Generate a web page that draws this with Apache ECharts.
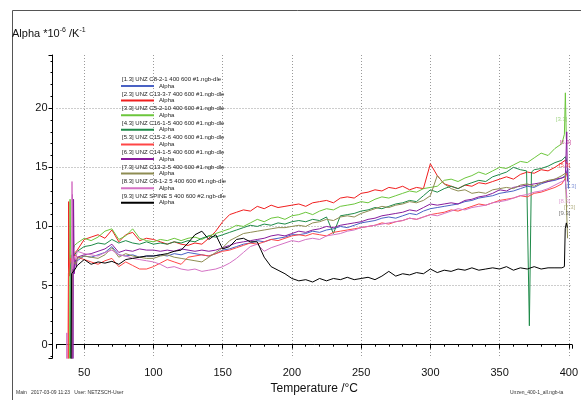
<!DOCTYPE html>
<html><head><meta charset="utf-8">
<script src="https://cdn.jsdelivr.net/npm/echarts@6/dist/echarts.min.js"></script>
<style>html,body{margin:0;padding:0;background:#fff}#c{width:581px;height:400px}</style>
</head><body><div id="c"></div>
<script>
// ---- data ----
const temps = [45,50,55,60,65,70,75,80,85,90,95,100,
  105,110,115,120,125,130,135,140,145,150,
  155,160,165,170,175,180,185,190,195,200,
  205,210,215,220,225,230,235,240,245,250,
  255,260,265,270,275,280,285,290,295,300,
  305,310,315,320,325,330,335,340,345,350,
  355,360,365,370,375,380,385,390,395];

const seriesNames = [
  '[1.3] UNZ C8-2-1 400 600 #1.ngb-dle',
  '[2.3] UNZ C13-3-7 400 600 #1.ngb-dle',
  '[3.3] UNZ C5-2-10 400 600 #1.ngb-dle',
  '[4.3] UNZ C16-1-5 400 600 #1.ngb-dle',
  '[5.3] UNZ C15-2-6 400 600 #1.ngb-dle',
  '[6.3] UNZ C14-1-5 400 600 #1.ngb-dle',
  '[7.3] UNZ C13-2-5 400 600 #1.ngb-dle',
  '[8.3] UNZ C8-1-2 5 400 600 #1.ngb-dle',
  '[9.3] UNZ SPINE 5 400 600 #2.ngb-dle'
];
const seriesColors = ['#4a62c4','#f01e1e','#6cc63c','#1e8a48','#ff4646','#881c9c','#8e8c52','#d472c4','#000000'];

const vals1 = [7.1,7.5,7.4,7.6,7.8,8.3,7.6,7.5,7.6,7.4,7.5,7.5,
  7.6,7.5,7.7,7.6,7.8,7.7,7.6,7.5,7.7,8.0,
  8.1,8.3,8.5,8.6,8.8,8.7,8.9,9.0,9.1,9.3,
  9.3,9.4,9.6,9.5,9.7,9.8,10.0,9.9,10.1,10.3,
  10.4,10.5,10.7,10.8,10.7,10.9,11.1,11.0,11.3,11.5,
  11.6,11.7,11.8,11.9,12.1,12.2,12.4,12.5,12.6,12.8,
  12.9,13.0,13.2,13.4,13.3,13.6,13.8,13.9,14.1];
const vals2 = [8.0,8.9,9.1,9.3,9.0,9.7,8.7,9.3,9.5,8.8,9.0,8.9,
  8.7,8.5,8.7,8.5,8.4,8.6,8.5,9.0,9.6,10.4,
  11.0,11.2,11.4,11.3,11.7,11.5,11.8,11.6,11.7,11.8,
  11.9,11.7,12.0,12.1,12.2,12.0,12.4,12.5,12.4,12.8,
  12.9,13.1,13.0,13.3,13.2,13.4,13.1,13.3,13.2,15.3,
  14.3,13.6,13.4,13.2,13.5,13.4,13.7,13.6,13.8,14.0,
  14.2,14.0,14.4,14.6,14.5,14.8,14.7,15.0,15.4];
const vals3 = [8.6,9.0,8.8,9.1,9.6,9.8,8.9,9.2,9.8,9.0,8.8,8.7,
  8.9,8.8,9.0,8.8,9.0,9.1,8.9,9.2,9.4,9.6,
  9.8,10.1,10.0,10.3,10.6,10.4,10.7,10.8,10.6,10.9,
  11.0,11.2,11.0,11.3,11.5,11.4,11.7,11.8,11.9,12.1,
  12.0,12.3,12.5,12.4,12.6,12.8,13.0,12.9,13.2,13.3,
  13.4,13.9,14.0,13.8,14.1,14.3,14.6,14.4,14.7,15.0,
  14.9,15.2,15.5,15.4,15.8,16.2,16.0,16.6,17.0];
const vals4 = [7.9,8.3,8.4,8.6,8.5,8.9,8.6,8.8,8.6,8.5,8.7,8.5,
  8.6,8.5,8.7,8.6,8.8,8.7,9.0,9.2,9.1,9.3,
  9.5,9.7,9.9,10.1,10.0,10.2,10.1,10.3,10.2,10.4,
  10.5,10.4,10.6,10.5,10.8,9.4,10.9,11.0,11.1,11.3,
  11.4,11.6,11.5,11.7,11.9,12.0,12.2,12.1,12.6,13.1,
  12.9,13.2,13.4,13.2,13.5,13.7,13.9,13.8,14.2,14.4,
  14.6,15.0,14.8,14.7,14.8,14.9,15.1,15.4,15.6];
const vals5 = [7.4,7.2,7.0,6.8,7.1,7.3,6.6,7.0,6.7,6.4,6.4,6.6,
  6.9,7.2,7.0,6.8,7.4,7.5,7.6,7.5,7.7,7.9,
  8.0,8.2,8.4,8.6,8.5,8.7,8.9,8.8,9.0,9.2,
  9.3,9.2,9.4,9.3,9.2,9.5,9.6,9.7,9.8,9.9,
  10.0,10.1,10.3,10.2,10.4,10.5,10.7,10.6,10.8,11.0,
  11.1,11.2,11.4,11.3,11.5,11.7,11.9,11.8,12.0,12.2,
  12.3,12.4,12.6,12.5,12.8,12.9,13.1,13.3,13.6];
const vals6 = [7.4,7.6,7.7,7.9,8.1,8.5,7.8,8.0,7.9,8.1,8.0,8.0,
  7.9,8.0,7.9,8.1,8.0,7.9,8.0,7.9,8.0,8.2,
  8.4,8.6,8.7,8.8,8.9,9.0,9.2,9.3,9.2,9.4,
  9.6,9.5,9.7,9.8,10.0,9.9,10.1,10.2,10.3,10.4,
  10.6,10.7,10.9,11.0,11.1,11.2,11.4,11.3,11.6,11.9,
  11.8,11.9,12.0,11.9,12.2,12.3,12.5,12.6,12.8,13.1,
  13.0,13.3,13.4,13.5,13.6,13.7,13.8,14.0,14.1];
const vals7 = [7.3,7.5,7.4,7.3,7.6,8.2,7.4,7.7,7.5,7.4,7.3,7.3,
  7.5,7.6,7.4,7.3,7.2,7.1,7.0,7.4,7.8,8.2,
  8.8,9.1,9.4,9.5,9.6,9.7,9.8,9.9,9.9,10.0,
  10.1,10.0,10.3,10.4,10.6,10.5,10.8,10.9,10.8,11.1,
  11.3,11.5,11.7,11.6,11.8,11.9,12.1,12.0,12.2,12.6,
  14.3,13.6,13.2,13.0,13.1,12.8,12.9,12.8,13.1,13.2,
  13.3,13.2,13.5,13.6,13.4,13.7,13.9,14.0,14.3];
const vals8 = [7.9,7.7,7.6,7.5,7.8,8.0,7.6,7.5,7.3,7.2,7.1,7.0,
  6.8,6.5,6.6,6.4,6.3,6.4,6.2,6.3,6.4,6.6,
  6.9,7.3,7.8,8.3,8.5,7.9,8.2,8.4,8.6,8.8,
  8.7,8.9,9.0,8.9,9.2,9.3,9.4,9.6,9.7,9.9,
  10.0,10.1,10.2,10.3,10.4,10.5,10.7,10.6,10.8,11.0,
  10.9,11.1,11.3,11.5,11.4,11.6,11.7,11.8,12.0,12.1,
  12.2,12.4,12.6,12.7,12.9,13.0,13.2,13.5,13.8];
const vals9 = [6.7,7.2,6.8,7.0,6.9,7.05,6.8,7.2,7.3,7.4,7.5,7.5,
  7.6,7.7,7.9,8.0,8.6,9.3,9.6,8.9,9.3,8.1,
  8.3,8.9,9.0,8.7,8.7,7.4,6.6,6.3,6.0,5.6,
  5.4,5.5,5.3,5.6,5.4,5.6,5.5,5.7,5.5,5.6,
  5.7,5.5,5.8,6.2,5.8,6.0,5.9,6.1,6.0,6.4,
  6.1,6.3,6.2,6.4,6.3,6.5,6.3,6.4,6.5,6.4,
  6.6,6.3,6.5,6.4,6.6,6.4,6.5,6.5,6.5];

// start-up spikes (below-axis start) and end segments, [T, alpha]
const head1 = [[41,-3],[41.4,6.6],[42.2,6.0],[43.2,7.2]];
const head2 = [[38.5,-3],[38.8,12.1],[39.4,5.8],[40.5,7.6],[42,6.9],[43.5,7.8]];
const head3 = [[39.4,-3],[39.8,12.3],[40.4,6.4],[41.5,7.9],[43,8.4]];
const head4 = [[40,-3],[40.4,6.8],[41.5,7.2],[43,7.6]];
const head5 = [[38.3,-3],[38.6,6.0],[40,7.3],[42,6.8],[43.5,7.6]];
const head6 = [[41.2,-3],[41.5,12.7],[41.9,-3],[42.3,12.3],[42.8,6.0],[43.6,7.2],[44.3,6.6]];
const head7 = [[40.8,-3],[41.2,6.5],[42.5,7.0],[43.8,6.8]];
const head8 = [[37.2,-3],[37.5,1.0],[37.8,-3],[40.9,-3],[41.2,13.8],[41.7,6.4],[42.8,7.5],[43.8,7.2]];
const head9 = [[40.5,-3],[40.9,6.0],[42,5.9],[43.5,6.4]];
const tail1 = [[397.5,14.3],[399.3,14.9],[399.8,13.2]];
const tail2 = [[397.5,15.6],[398.5,15.3]];
const tail3 = [[396.8,17.8],[397.5,21.3],[398.2,17.4]];
const tail4 = [[397.5,15.9],[398.5,15.5]];
const tail5 = [[397.5,14.1],[398.5,14.5]];
const tail6 = [[397.5,14.2],[398.5,18.0],[399,13.8]];
const tail7 = [[397.5,14.5],[398.6,14.4],[399.1,9.0]];
const tail8 = [[397.5,13.9],[398.6,12.4]];
const tail9 = [[396.8,6.6],[397.4,9.8],[398.2,10.3],[399,9.9]];
const dip4 = [[369.5,14.7],[371.5,1.6],[373,14.6]];

// end-of-curve tags
const tagTexts = ['[3.3]','[6.3]','[5.3]','[1.3]','[8.3]','[7.3]','[9.3]'];
const tagT = [390.6,393.4,392.7,397.0,392.7,396.3,392.7];
const tagV = [19.1,17.1,15.2,13.4,12.1,11.6,11.1];
const tagColors = ['#8ccc6a','#c0308c','#f03030','#6a80d0','#d890cc','#a8a470','#555555'];

const xTicks = [50,100,150,200,250,300,350,400];
const yTicks = [0,5,10,15,20];

// ---- build ----
const valsAll = [vals1,vals2,vals3,vals4,vals5,vals6,vals7,vals8,vals9];
const heads = [head1,head2,head3,head4,head5,head6,head7,head8,head9];
const tails = [tail1,tail2,tail3,tail4,tail5,tail6,tail7,tail8,tail9];
const extras = [[],[],[],dip4,[],[],[],[],[]];

function build(i){
  const body = temps.map((t,k)=>[t, valsAll[i][k]]).concat(extras[i]);
  body.sort((a,b)=>a[0]-b[0]);
  return heads[i].concat(body, tails[i]);
}

const FONT = 'Liberation Sans, Arial, sans-serif';
const series = seriesNames.map((n,i)=>({
  name: n, type: 'line', data: build(i), symbol: 'none', showSymbol: false,
  lineStyle: {width: 1, color: seriesColors[i]}, itemStyle: {color: seriesColors[i]},
  clip: true, z: 2 + i, animation: false
}));
series.push({
  name: 'tags', type: 'scatter', symbolSize: 0, z: 20, animation: false,
  data: tagTexts.map((t,i)=>({value:[tagT[i], tagV[i]], name: t,
    label:{show:true, position:'right', distance:0, formatter:t, color: tagColors[i], fontSize:6, fontFamily: FONT}}))
});

const chart = echarts.init(document.getElementById('c'), null, {renderer:'canvas'});
chart.setOption({
  animation: false,
  backgroundColor: '#fff',
  title: {
    text: '{a|Alpha *10}{s|-6}{a| /K}{s|-1}', left: 12, top: 27, padding: 0,
    textStyle: {fontWeight: 'normal', rich: {
      a: {fontSize: 11, fontFamily: FONT, color: '#111', lineHeight: 14, fontWeight: 'normal'},
      s: {fontSize: 7, fontFamily: FONT, color: '#111', lineHeight: 14, verticalAlign: 'top', padding:[0,0,6,0], fontWeight: 'normal'}
    }}
  },
  grid: {left: 56.5, right: 7.7, top: 55, bottom: 40, containLabel: false},
  legend: [
    {data: seriesNames, orient: 'vertical', left: 117, top: 75.3, padding: 0, icon: 'none', itemWidth: 0, itemHeight: 8,
     itemGap: 6.6, textStyle: {fontSize: 6, lineHeight: 8, color: '#222', fontFamily: FONT}, selectedMode: false},
    {data: seriesNames, orient: 'vertical', left: 121, top: 82, padding: 0, icon: 'rect', itemWidth: 33, itemHeight: 2,
     itemGap: 6.6, formatter: () => 'Alpha',
     textStyle: {fontSize: 6, lineHeight: 8, color: '#222', fontFamily: FONT}, selectedMode: false}
  ],
  xAxis: {
    type: 'value', min: 30, max: 402.3, minInterval: 50, maxInterval: 50, offset: 4,
    name: 'Temperature /°C', nameLocation: 'middle', nameGap: 18,
    nameTextStyle: {fontSize: 12, color: '#111', fontFamily: FONT},
    axisLine: {show: true, lineStyle: {color: '#000', width: 1}},
    axisTick: {show: true, length: 4, lineStyle: {color: '#000'}},
    minorTick: {show: true, splitNumber: 5, length: 2, lineStyle: {color: '#000'}},
    axisLabel: {fontSize: 11, color: '#111', margin: 5, fontFamily: FONT, showMinLabel: false, showMaxLabel: false,
      formatter: v => xTicks.includes(v) ? String(v) : ''},
    splitLine: {show: true, showMinLine: false, showMaxLine: false, lineStyle: {color: '#9a9a9a', type: [1,2], width: 1}}
  },
  yAxis: {
    type: 'value', min: -1.134, max: 24.5, minInterval: 5, maxInterval: 5, offset: 4,
    axisLine: {show: true, lineStyle: {color: '#000', width: 1}},
    axisTick: {show: true, length: 4, lineStyle: {color: '#000'}},
    minorTick: {show: true, splitNumber: 5, length: 2, lineStyle: {color: '#000'}},
    axisLabel: {fontSize: 11, color: '#111', margin: 5, fontFamily: FONT, showMinLabel: false, showMaxLabel: false,
      formatter: v => yTicks.includes(v) ? String(v) : ''},
    splitLine: {show: true, showMinLine: false, showMaxLine: false, lineStyle: {color: '#9a9a9a', type: [1,2], width: 1}}
  },
  graphic: [
    {type: 'rect', shape: {x: 12.5, y: 10.5, width: 600, height: 420}, style: {fill: 'none', stroke: '#555', lineWidth: 1}, silent: true, z: 0},
    {type: 'text', left: 16, top: 390, style: {text: 'Main   2017-03-09 11:23   User: NETZSCH-User', fontSize: 5, fill: '#333', fontFamily: FONT}},
    {type: 'text', left: 510, top: 390, style: {text: 'Unzen_400-1_all.ngb-ta', fontSize: 5, fill: '#333', fontFamily: FONT}}
  ],
  series: series
});
</script></body></html>
